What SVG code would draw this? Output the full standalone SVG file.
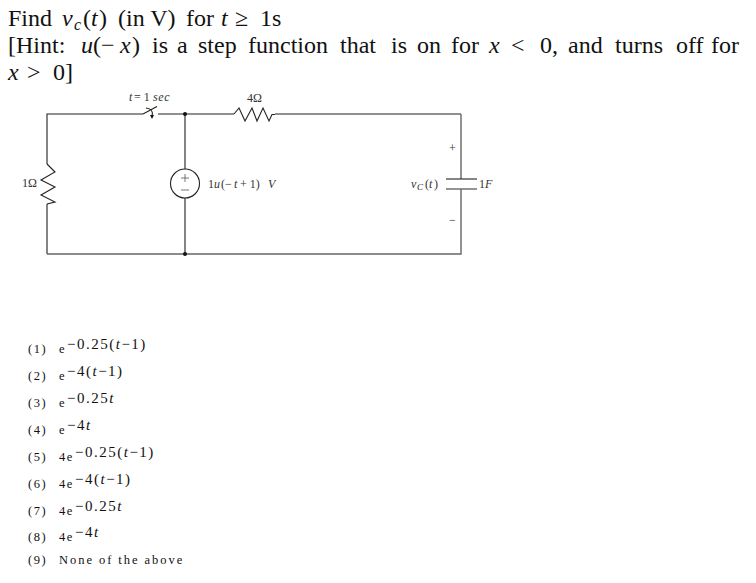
<svg xmlns="http://www.w3.org/2000/svg" width="756" height="583" viewBox="0 0 756 583">
<style>
text{font-family:"Liberation Serif","Times New Roman",serif;fill:#111}
.h{font-size:24px}
.i{font-style:italic}
.s{font-size:12px;fill:#333}
.o{font-size:12.500px;letter-spacing:1.500px}
.n{font-size:12.500px;letter-spacing:1.950px}
.e{font-size:15px;letter-spacing:1.500px}
.w{fill:none;stroke:#222;stroke-width:1.100}
.g{fill:none;stroke:#666;stroke-width:1.400}
.t{fill:none;stroke:#555;stroke-width:.8}
.d{fill:#111}
</style>
<g id="heading">
<text class="h" x="8" y="26">Find</text><text class="h i" x="62" y="26">v</text><text class="i" font-size="16" x="74" y="30">c</text><text class="h" x="83" y="26">(</text><text class="h i" x="91" y="26">t</text><text class="h" x="99" y="26">)</text><text class="h" x="118" y="26">(in V)</text><text class="h" x="186" y="26">for</text><text class="h i" x="221" y="26">t</text><text class="h" x="235" y="26">≥</text><text class="h" x="260" y="26">1s</text>
<text class="h" x="8" y="53">[Hint:</text><text class="h i" x="81" y="53">u</text><text class="h" x="93" y="53">(−</text><text class="h i" x="120" y="53">x</text><text class="h" x="132" y="53">)</text><text class="h" x="152" y="53">is</text><text class="h" x="177" y="53">a</text><text class="h" x="198" y="53">step</text><text class="h" x="248" y="53">function</text><text class="h" x="340" y="53">that</text><text class="h" x="391" y="53">is</text><text class="h" x="417" y="53">on</text><text class="h" x="451" y="53">for</text><text class="h i" x="489" y="53">x</text><text class="h" x="511" y="53">&lt;</text><text class="h" x="540" y="53">0,</text><text class="h" x="568" y="53">and</text><text class="h" x="615" y="53">turns</text><text class="h" x="676" y="53">off</text><text class="h" x="711" y="53">for</text>
<text class="h i" x="8" y="80">x</text><text class="h" x="27" y="80">&gt;</text><text class="h" x="53" y="80">0]</text>
</g>
<g id="connectors">
<path class="w" d="M143 114H47V164M47 204V254M275 114H461M234 114H158M185 114V169M185 198V254"/>
<path class="g" d="M47 254H461V189M461 114V179"/>
</g>
<g id="switch"><path class="w" d="M143 114L157 106.500M146 108Q154 109 152 116"/><path class="d" d="M150 115L154 115L152 119Z"/><text class="s i" x="129" y="101">t</text><text class="s" x="134" y="101">= 1</text><text class="s i" x="153" y="101" letter-spacing=".6">sec</text></g>
<g id="r1"><path class="w" d="M47 164L55 172L41 180L55 187L41 195L55 202L47 204"/><text class="s" x="22" y="187">1Ω</text></g>
<g id="r4"><path class="w" d="M234 114L239 108L245 121L252 108L257 121L263 108L269 121L272 114.500H275"/><text class="s" x="247" y="102">4Ω</text></g>
<g id="source"><circle class="w" cx="185" cy="183.500" r="14.500"/><path class="t" d="M181 178H189M185 174V182M181 190H189"/><text class="s" x="208" y="188">1</text><text class="s i" x="214" y="188">u</text><text class="s" x="221" y="188">(−</text><text class="s i" x="234" y="188">t</text><text class="s" x="240" y="188">+ 1)</text><text class="s i" x="268" y="188">V</text></g>
<g id="capacitor"><path class="w" d="M446 179H477"/><path class="g" d="M446 189H477"/><text class="s i" x="411" y="188">v</text><text class="i" font-size="9" x="417" y="190" fill="#333">C</text><text class="s" x="425" y="188">(</text><text class="s i" x="429" y="188">t</text><text class="s" x="434" y="188">)</text><text class="s" x="479" y="188">1</text><text class="s i" x="485" y="188">F</text><text class="s" x="449" y="152">+</text><text class="s" x="449" y="224">−</text></g>
<g id="nodes"><circle class="d" cx="185" cy="114" r="2"/><circle class="d" cx="185" cy="254" r="2"/></g>
<g id="options">
<text class="o" x="28" y="353">(1)</text><text class="o" x="59" y="353">e</text><text class="e" x="67" y="349">−0.25(<tspan class="i">t</tspan>−1)</text>
<text class="o" x="28" y="380">(2)</text><text class="o" x="59" y="380">e</text><text class="e" x="67" y="376">−4(<tspan class="i">t</tspan>−1)</text>
<text class="o" x="28" y="407">(3)</text><text class="o" x="59" y="407">e</text><text class="e" x="67" y="403">−0.25<tspan class="i">t</tspan></text>
<text class="o" x="28" y="434">(4)</text><text class="o" x="59" y="434">e</text><text class="e" x="67" y="430">−4<tspan class="i">t</tspan></text>
<text class="o" x="28" y="461">(5)</text><text class="o" x="59" y="461">4e</text><text class="e" x="75" y="457">−0.25(<tspan class="i">t</tspan>−1)</text>
<text class="o" x="28" y="488">(6)</text><text class="o" x="59" y="488">4e</text><text class="e" x="75" y="484">−4(<tspan class="i">t</tspan>−1)</text>
<text class="o" x="28" y="515">(7)</text><text class="o" x="59" y="515">4e</text><text class="e" x="75" y="511">−0.25<tspan class="i">t</tspan></text>
<text class="o" x="28" y="541">(8)</text><text class="o" x="59" y="541">4e</text><text class="e" x="75" y="537">−4<tspan class="i">t</tspan></text>
<text class="o" x="28" y="564">(9)</text><text class="n" x="59" y="564">None of the above</text>
</g>
</svg>
